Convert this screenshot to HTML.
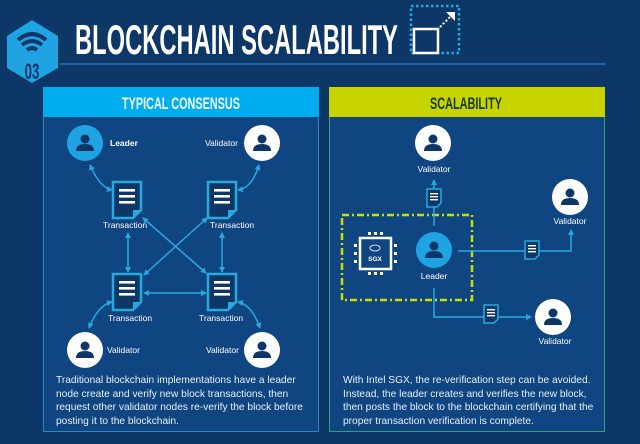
<!DOCTYPE html>
<html><head><meta charset="utf-8"><style>
body{margin:0;width:640px;height:444px;overflow:hidden;background:#0c3767;font-family:"Liberation Sans",sans-serif}
svg{position:absolute;left:0;top:0}
.p{position:absolute;color:#e8f0f8;font-size:10.2px;line-height:13.6px}
</style></head><body>
<svg width="640" height="444" viewBox="0 0 640 444">
<defs>
<marker id="a" markerWidth="6" markerHeight="6" refX="5" refY="3" orient="auto-start-reverse" markerUnits="userSpaceOnUse"><path d="M0,0L6,3L0,6z" fill="#29a8e0"/></marker>
<g id="doc"><path d="M-14,-18H14V10L6,18H-14Z" fill="#0c3767" stroke="#29a8e0" stroke-width="2.5"/><path d="M6,18V10H14" fill="#29a8e0"/><rect x="-8" y="-11" width="16" height="2.6" fill="#fff"/><rect x="-8" y="-5" width="16" height="2.6" fill="#fff"/><rect x="-8" y="1" width="16" height="2.6" fill="#fff"/></g>
<g id="sdoc"><path d="M-7,-9H7V5L3,9H-7Z" fill="#0c3767" stroke="#29a8e0" stroke-width="1.5"/><rect x="-4" y="-5" width="8" height="1.4" fill="#fff"/><rect x="-4" y="-2" width="8" height="1.4" fill="#fff"/><rect x="-4" y="1" width="8" height="1.4" fill="#fff"/></g>
<g id="pw"><circle r="18" fill="#fff"/><circle cy="-4" r="4.5" fill="#0c3767"/><path d="M-9,8Q-9,1 0,1Q9,1 9,8Z" fill="#0c3767"/></g>
<g id="pl"><circle r="18" fill="#1fa3e3"/><circle cy="-4" r="4.5" fill="#0c3767"/><path d="M-9,8Q-9,1 0,1Q9,1 9,8Z" fill="#0c3767"/></g>
</defs>
<!-- hex -->
<path d="M32,20L58,36V68L32,83L7,68V36Z" fill="#1fa3e3"/>
<path d="M18,40Q32,28 46,40M22,45Q32,37 42,45M27,50Q32,46 37,50" stroke="#0c3767" stroke-width="4" fill="none"/>
<text x="32" y="79" fill="#0c3767" font-size="22" font-weight="bold" text-anchor="middle" transform="translate(32,0) scale(0.6,1) translate(-32,0)">03</text>
<line x1="60" y1="64" x2="605" y2="64" stroke="#2a86c6" stroke-width="1.2"/>
<text x="75" y="54" fill="#fff" font-size="42" font-weight="bold" textLength="323" lengthAdjust="spacingAndGlyphs">BLOCKCHAIN SCALABILITY</text>
<rect x="411" y="6" width="48" height="47" fill="none" stroke="#29a8e0" stroke-width="2.5" stroke-dasharray="2.5 2.5"/>
<rect x="414" y="29" width="24" height="24" fill="none" stroke="#fff" stroke-width="2.5"/>
<path d="M440,27L452,15" stroke="#fff" stroke-width="2" stroke-dasharray="2 2"/><path d="M446,12H455V21Z" fill="#fff"/>
<!-- panels -->
<rect x="43.5" y="87.5" width="275" height="344" fill="#0f4580" stroke="#2a86c6"/>
<rect x="43" y="87" width="276" height="30" fill="#00aeef"/>
<text x="181" y="109" fill="#f4fbff" font-size="17" font-weight="bold" text-anchor="middle" textLength="118" lengthAdjust="spacingAndGlyphs">TYPICAL CONSENSUS</text>
<rect x="329.5" y="87.5" width="275" height="344" fill="#0f4580" stroke="#3a9a7a"/>
<rect x="329" y="87" width="276" height="30" fill="#c8d400"/>
<text x="466" y="109" fill="#173a2a" font-size="17" font-weight="bold" text-anchor="middle" textLength="72" lengthAdjust="spacingAndGlyphs">SCALABILITY</text>
<!-- left diagram connectors -->
<g stroke="#29a8e0" stroke-width="1.5" fill="none">
<path d="M90,165Q100,188 112,190" marker-start="url(#a)" marker-end="url(#a)"/>
<path d="M259,165Q252,188 238,190" marker-start="url(#a)" marker-end="url(#a)"/>
<path d="M89,328Q98,305 112,302" marker-start="url(#a)" marker-end="url(#a)"/>
<path d="M260,328Q252,305 238,302" marker-start="url(#a)" marker-end="url(#a)"/>
<line x1="128" y1="233" x2="128" y2="272" marker-start="url(#a)" marker-end="url(#a)"/>
<line x1="222" y1="233" x2="222" y2="272" marker-start="url(#a)" marker-end="url(#a)"/>
<line x1="144" y1="293" x2="206" y2="293" marker-start="url(#a)" marker-end="url(#a)"/>
<line x1="143" y1="218" x2="206" y2="273" marker-start="url(#a)" marker-end="url(#a)"/>
<line x1="207" y1="218" x2="144" y2="275" marker-start="url(#a)" marker-end="url(#a)"/>
</g>
<use href="#doc" x="127" y="200"/><use href="#doc" x="222" y="200"/>
<use href="#doc" x="127" y="292"/><use href="#doc" x="222" y="292"/>
<use href="#pl" x="85" y="143"/><use href="#pw" x="262" y="143"/>
<use href="#pw" x="85" y="350"/><use href="#pw" x="262" y="350"/>
<g fill="#fff" font-size="8.5">
<text x="110" y="146" font-weight="bold">Leader</text>
<text x="205" y="146">Validator</text>
<text x="103" y="228">Transaction</text>
<text x="210" y="228">Transaction</text>
<text x="108" y="321">Transaction</text>
<text x="199" y="321">Transaction</text>
<text x="107" y="353">Validator</text>
<text x="206" y="353">Validator</text>
</g>
<!-- right diagram -->
<rect x="342" y="215" width="130" height="85" fill="none" stroke="#c8e000" stroke-width="2.5" stroke-dasharray="7 3 2 3"/>
<g stroke="#29a8e0" stroke-width="1.5" fill="none">
<line x1="434" y1="226" x2="434" y2="180" marker-end="url(#a)"/>
<path d="M458,251H571V230" marker-end="url(#a)"/>
<path d="M434,288V317H531" marker-end="url(#a)"/>
</g>
<use href="#sdoc" x="434" y="198"/><use href="#sdoc" x="532" y="250"/><use href="#sdoc" x="491" y="314"/>
<use href="#pw" x="433" y="143"/><use href="#pw" x="570" y="197"/><use href="#pl" x="434" y="250"/><use href="#pw" x="553" y="317"/>
<!-- chip -->
<g fill="#fff">
<rect x="360" y="238" width="31" height="31" fill="none" stroke="#fff" stroke-width="2.5"/>
<rect x="368" y="232" width="3" height="3"/><rect x="374" y="232" width="3" height="3"/><rect x="380" y="232" width="3" height="3"/>
<rect x="368" y="272" width="3" height="3"/><rect x="374" y="272" width="3" height="3"/><rect x="380" y="272" width="3" height="3"/>
<rect x="354" y="244" width="3" height="3"/><rect x="354" y="252" width="3" height="3"/><rect x="354" y="260" width="3" height="3"/>
<rect x="394" y="244" width="3" height="3"/><rect x="394" y="252" width="3" height="3"/><rect x="394" y="260" width="3" height="3"/>
<ellipse cx="375" cy="248" rx="5" ry="3" fill="none" stroke="#fff" stroke-width="0.8"/>
<text x="375" y="261" font-size="6.5" font-weight="bold" text-anchor="middle">SGX</text>
</g>
<g fill="#fff" font-size="8.5" text-anchor="middle">
<text x="434" y="172">Validator</text>
<text x="570" y="224">Validator</text>
<text x="434" y="279">Leader</text>
<text x="555" y="344">Validator</text>
</g>
</svg>
<div class="p" style="left:56px;top:374px;width:262px">Traditional blockchain implementations have a leader node create and verify new block transactions, then request other validator nodes re-verify the block before posting it to the blockchain.</div>
<div class="p" style="left:343px;top:374px;width:256px">With Intel SGX, the re-verification step can be avoided. Instead, the leader creates and verifies the new block, then posts the block to the blockchain certifying that the proper transaction verification is complete.</div>
</body></html>
